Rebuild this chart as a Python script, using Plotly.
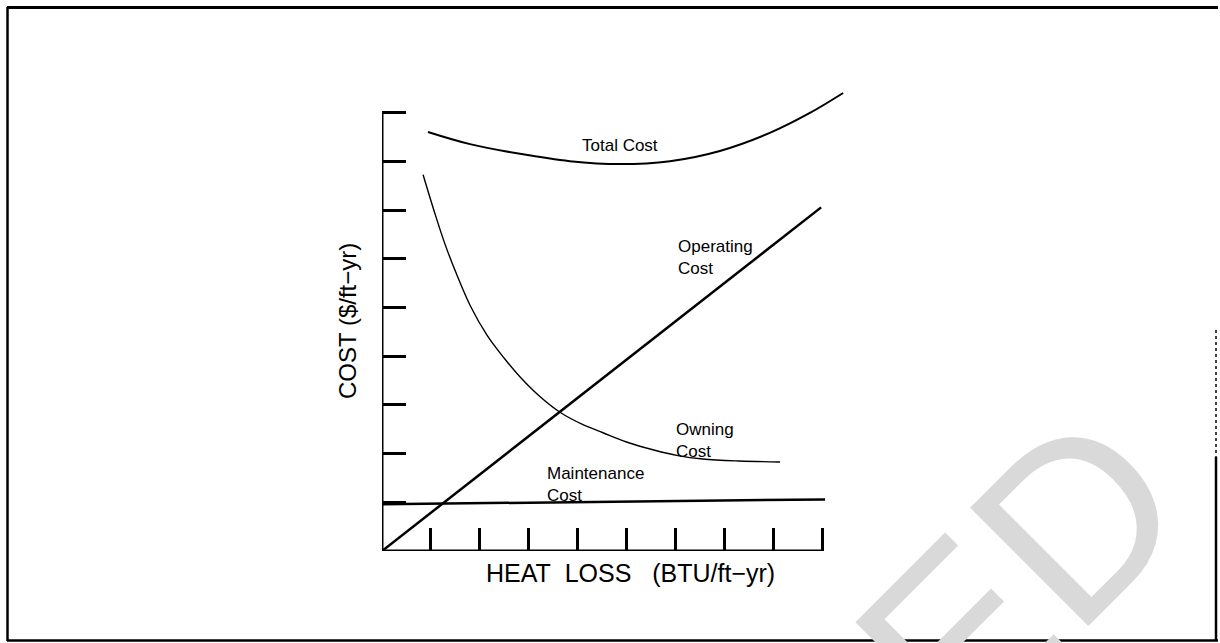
import plotly.graph_objects as go

# ---- data ----
total_x = [0.94, 1.80, 2.82, 3.84, 4.87, 5.89, 6.91, 7.93, 8.75, 9.43]
total_cost = [8.61, 8.36, 8.16, 8.01, 7.95, 8.01, 8.22, 8.59, 9.00, 9.41]

owning_x = [0.84, 1.08, 1.29, 1.52, 1.80, 2.15, 2.50, 2.82, 3.20, 3.64, 4.10,
            4.52, 5.00, 5.54, 6.05, 6.56, 7.30, 8.14]
owning_cost = [7.73, 6.94, 6.30, 5.70, 5.05, 4.43, 3.96, 3.58, 3.20, 2.85, 2.60,
               2.43, 2.24, 2.08, 1.96, 1.89, 1.85, 1.83]

operating_x = [0.0, 8.98]
operating_cost = [0.0, 7.06]

maint_x = [0.0, 9.06]
maint_cost = [0.96, 1.06]

tick_vals = [1, 2, 3, 4, 5, 6, 7, 8, 9]
axis_end = 9

# ---- layout geometry (page pixels) ----
W, H = 1220, 643
PL, PR, PT, PB = 382, 845, 90, 551   # plot area edges
L, T = PL, PT
R, B = W - PR, H - PB
XS = 48.9
YS = 48.67
x_max = (PR - PL) / XS
y_max = (PB - PT) / YS


def pxx(px):  # page px -> paper x
    return (px - PL) / (PR - PL)


def pyy(py):  # page px -> paper y
    return (PB - py) / (PB - PT)


FONT = "Arial, Liberation Sans, Helvetica, sans-serif"

fig = go.Figure()
fig.add_trace(go.Scatter(x=total_x, y=total_cost, mode="lines",
                         line=dict(color="black", width=2, shape="spline", smoothing=1.0),
                         name="Total Cost"))
fig.add_trace(go.Scatter(x=owning_x, y=owning_cost, mode="lines",
                         line=dict(color="black", width=1.4, shape="spline", smoothing=1.0),
                         name="Owning Cost"))
fig.add_trace(go.Scatter(x=operating_x, y=operating_cost, mode="lines",
                         line=dict(color="black", width=2.5), name="Operating Cost"))
fig.add_trace(go.Scatter(x=maint_x, y=maint_cost, mode="lines",
                         line=dict(color="black", width=2.5), name="Maintenance Cost"))

# axis lines (ending at the last tick)
fig.add_shape(type="line", xref="x", yref="y", x0=0, y0=0, x1=0, y1=axis_end,
              line=dict(color="black", width=3))
fig.add_shape(type="line", xref="x", yref="y", x0=0, y0=0, x1=axis_end, y1=0,
              line=dict(color="black", width=3))


# page frame
def frame_line(x0, y0, x1, y1, dash="solid", width=2.5):
    fig.add_shape(type="line", xref="paper", yref="paper",
                  x0=pxx(x0), y0=pyy(y0), x1=pxx(x1), y1=pyy(y1),
                  line=dict(color="black", width=width, dash=dash))


frame_line(7, 7.5, 1218, 7.5, width=3)      # top
frame_line(7.5, 7, 7.5, 641)                # left
frame_line(7, 640.5, 1218, 640.5)           # bottom
frame_line(1216, 457, 1216, 641)            # right (solid part)
frame_line(1216, 330, 1216, 457, dash="dot", width=1.5)  # right (faded part)

annots = []


def lab(text, px, py, size=17, xanchor="left", angle=0, color="black"):
    annots.append(dict(text=text, x=pxx(px), y=pyy(py), xref="paper", yref="paper",
                       showarrow=False, xanchor=xanchor, yanchor="middle", textangle=angle,
                       align="left", font=dict(family=FONT, size=size, color=color)))


# watermark
lab("ED", 1019, 575, size=243, xanchor="center", angle=-45, color="#d9d9d9")

lab("Total Cost", 620, 146, xanchor="center")
lab("Operating<br>Cost", 676, 257)
lab("Owning<br>Cost", 674, 440)
lab("Maintenance<br>Cost", 545, 484)
lab("HEAT\u00a0\u00a0LOSS\u00a0\u00a0\u00a0(BTU/ft\u2212yr)", 630, 573, size=25, xanchor="center")
lab("COST ($/ft\u2212yr)", 347, 321, size=24, xanchor="center", angle=-90)

fig.update_layout(
    width=W, height=H,
    margin=dict(l=L, r=R, t=T, b=B, pad=0),
    paper_bgcolor="white", plot_bgcolor="white",
    showlegend=False,
    annotations=annots,
    xaxis=dict(range=[0, x_max], showgrid=False, zeroline=False, showline=False,
               tickvals=tick_vals, ticks="inside", ticklen=23, tickwidth=2.5, tickcolor="black",
               showticklabels=False, fixedrange=True),
    yaxis=dict(range=[0, y_max], showgrid=False, zeroline=False, showline=False,
               tickvals=tick_vals, ticks="inside", ticklen=24, tickwidth=2.5, tickcolor="black",
               showticklabels=False, fixedrange=True),
)

fig.write_html("out.html", config={"displayModeBar": False},
               post_script="document.body.style.margin='0';document.body.style.overflow='hidden';")
